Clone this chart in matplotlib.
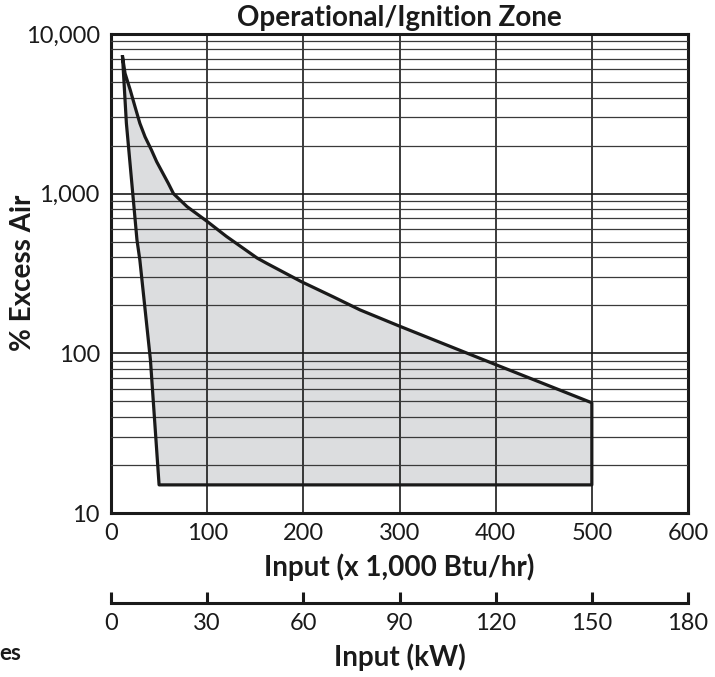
import matplotlib.pyplot as plt
from matplotlib.ticker import FixedLocator, NullFormatter

plt.rcParams['font.family'] = ['Lato', 'DejaVu Sans']

# Upper edge of the zone, top point first (x in 1,000 Btu/hr, y in % excess air)
upper_x = [12, 14.6, 20, 25, 30, 35.4, 42, 47.5, 54, 59.6, 65, 79, 100, 120, 152, 162, 198, 231, 259, 300, 400, 500]
upper_y = [7200, 5670, 4460, 3500, 2760, 2270, 1880, 1585, 1340, 1160, 1000, 830, 670, 540, 395, 366, 281, 226, 187, 148, 85, 49]
# Right, bottom and left edges, back to the top point
lower_x = [500, 50, 41, 30, 27, 16, 12]
lower_y = [15, 15, 91, 384, 513, 2760, 7200]

btu_ticks = [0, 100, 200, 300, 400, 500, 600]
kw_ticks = [0, 30, 60, 90, 120, 150, 180]
y_ticks = [10, 100, 1000, 10000]
y_labels = ["10", "100", "1,000", "10,000"]

W, H = 715, 677
ink = '#1a1a1a'
fig = plt.figure(figsize=(W / 100, H / 100), dpi=100)
ax = fig.add_axes([111 / W, 1 - 513 / H, (688 - 111) / W, (513 - 34) / H])

zone_x = upper_x + lower_x
zone_y = upper_y + lower_y
ax.fill(zone_x, zone_y, color='#dcdddf', zorder=1)
ax.plot(zone_x, zone_y, color=ink, lw=2.3, zorder=3, solid_joinstyle='round')

ax.set_yscale('log')
ax.set_xlim(0, 600)
ax.set_ylim(10, 10000)
ax.set_xticks(btu_ticks)
ax.set_yticks(y_ticks)
ax.set_yticklabels(y_labels)
ax.yaxis.set_minor_locator(FixedLocator([m * d for d in (10, 100, 1000) for m in range(2, 10)]))
ax.yaxis.set_minor_formatter(NullFormatter())

ax.set_axisbelow(False)
ax.grid(which='major', axis='both', color=ink, lw=1.2)
ax.grid(which='minor', axis='y', color='#3a3a3a', lw=0.9)
ax.tick_params(which='both', length=0)
ax.tick_params(axis='x', labelsize=17, pad=7, colors=ink)
ax.tick_params(axis='y', labelsize=17, pad=8, colors=ink)
for s in ax.spines.values():
    s.set_linewidth(2.2)
    s.set_color(ink)

ax.set_title("Operational/Ignition Zone", fontsize=20, fontweight='bold', pad=6, color=ink)
ax.set_xlabel("Input (x 1,000 Btu/hr)", fontsize=20, fontweight='bold', labelpad=7, color=ink)
fig.text(23 / W, 1 - 273 / H, "% Excess Air", fontsize=20, fontweight='bold',
         rotation=90, ha='center', va='center', color=ink)

# kW scale below the main chart
ax2 = fig.add_axes([111 / W, 1 - 603 / H, (688 - 111) / W, 0.001])
ax2.set_xlim(0, 180)
ax2.set_xticks(kw_ticks)
ax2.set_yticks([])
for side in ['left', 'right', 'top']:
    ax2.spines[side].set_visible(False)
ax2.spines['bottom'].set_linewidth(2.2)
ax2.spines['bottom'].set_color(ink)
ax2.tick_params(axis='x', direction='in', length=8, width=2.2, labelsize=17, pad=7, colors=ink)
ax2.patch.set_alpha(0)

fig.text(399.5 / W, 1 - 657 / H, "Input (kW)", fontsize=20, fontweight='bold',
         ha='center', va='center', color=ink)
fig.text(21 / W, 1 - 653 / H, "es", fontsize=16, fontweight='bold',
         ha='right', va='center', color=ink)

fig.savefig("out.png", dpi=100)
